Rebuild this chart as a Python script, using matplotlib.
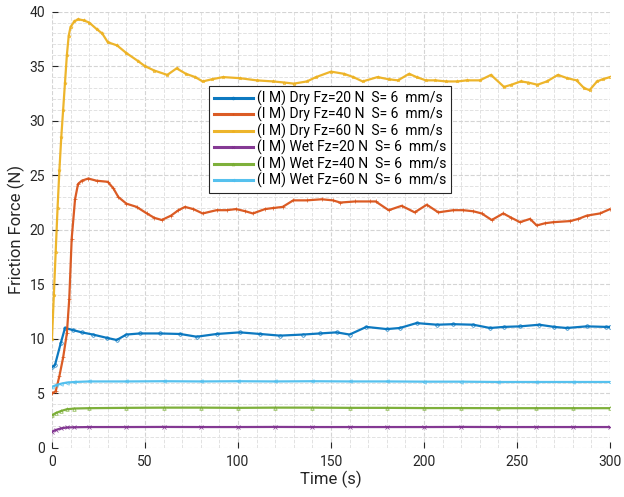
import matplotlib
matplotlib.use("Agg")
import matplotlib.pyplot as plt
from matplotlib.ticker import MultipleLocator

plt.rcParams["font.family"] = ["Roboto", "DejaVu Sans"]

# ---- data ----
t_dry60 = [0, 1, 2, 3, 4, 5, 6, 7, 8, 9, 10, 12, 14, 17, 20, 24, 27, 30, 35, 40,
           46, 50, 55, 62, 67, 72, 77, 81, 86, 92, 101, 110, 119, 125, 130, 137,
           142, 150, 157, 162, 167, 175, 181, 186, 192, 196, 201, 206, 212, 218,
           223, 230, 236, 243, 247, 252, 256, 261, 266, 272, 277, 282, 286, 289,
           293, 296, 300]
f_dry60 = [10, 14, 18, 22, 25.5, 28.5, 31, 33.5, 36, 37.8, 38.6, 39.1, 39.3, 39.2,
           39.0, 38.4, 38.0, 37.2, 36.9, 36.2, 35.5, 35.0, 34.6, 34.2, 34.8, 34.3,
           34.0, 33.6, 33.8, 34.0, 33.9, 33.7, 33.6, 33.5, 33.4, 33.6, 34.0, 34.5,
           34.3, 34.0, 33.6, 34.0, 33.8, 33.7, 34.3, 34.0, 33.7, 33.7, 33.6, 33.6,
           33.7, 33.7, 34.2, 33.1, 33.3, 33.6, 33.5, 33.3, 33.6, 34.2, 33.9, 33.7,
           33.0, 32.8, 33.6, 33.8, 34.0]

t_dry40 = [0, 2, 4, 6, 8, 9.3, 10.6, 12.4, 14, 16, 19.5, 24, 30, 33, 35.7, 40,
           45.5, 51, 55, 59, 64, 68, 71.5, 76, 81, 88.5, 94, 99, 104, 108, 114.5,
           119, 124, 129.7, 137, 145, 151, 155, 163, 171, 174, 181, 188, 195,
           201.5, 207.7, 215.8, 221, 226.5, 231, 236.4, 242.6, 247, 251.6, 257,
           260.6, 265, 269.5, 278.5, 283, 287.5, 294.6, 300]
f_dry40 = [5.0, 5.2, 6.6, 8.3, 10.5, 13.7, 19.2, 22.8, 24.2, 24.5, 24.7, 24.5,
           24.4, 23.8, 23.0, 22.4, 22.1, 21.5, 21.1, 20.9, 21.3, 21.8, 22.1, 21.9,
           21.5, 21.8, 21.8, 21.9, 21.7, 21.5, 21.9, 22.0, 22.1, 22.7, 22.7, 22.8,
           22.7, 22.5, 22.6, 22.6, 22.6, 21.8, 22.2, 21.6, 22.3, 21.6, 21.8, 21.8,
           21.7, 21.5, 20.9, 21.5, 21.1, 20.7, 21.0, 20.4, 20.6, 20.7, 20.8, 21.0,
           21.3, 21.5, 21.9]

t_dry20 = [0, 1.6, 4.7, 7, 11.5, 16, 22, 29.4, 34.8, 40, 47.3, 58, 69, 77.8, 88.5,
           101, 112, 122.6, 135, 144, 153, 160, 169, 180, 187, 196, 207, 215.7,
           226.5, 235.5, 243, 251.6, 262, 270, 276.7, 287.5, 298, 300]
f_dry20 = [7.4, 7.6, 9.6, 11.0, 10.8, 10.6, 10.4, 10.1, 9.9, 10.4, 10.5, 10.5,
           10.45, 10.2, 10.45, 10.6, 10.45, 10.3, 10.4, 10.5, 10.6, 10.4, 11.1,
           10.9, 11.0, 11.45, 11.3, 11.35, 11.3, 11.0, 11.1, 11.15, 11.3, 11.1,
           11.0, 11.15, 11.1, 11.1]

t_wet = [0, 2, 5, 8, 12, 20, 40, 60, 80, 100, 120, 140, 160, 180, 200, 220, 240,
         260, 280, 300]
f_wet60 = [5.6, 5.75, 5.9, 6.0, 6.05, 6.1, 6.1, 6.12, 6.1, 6.12, 6.1, 6.12, 6.1,
           6.1, 6.08, 6.08, 6.05, 6.05, 6.05, 6.05]
f_wet40 = [3.0, 3.2, 3.4, 3.55, 3.62, 3.65, 3.68, 3.7, 3.7, 3.68, 3.7, 3.7, 3.68,
           3.68, 3.66, 3.66, 3.65, 3.65, 3.65, 3.65]
f_wet20 = [1.5, 1.65, 1.8, 1.88, 1.9, 1.92, 1.92, 1.93, 1.92, 1.92, 1.93, 1.92,
           1.92, 1.92, 1.92, 1.93, 1.92, 1.92, 1.92, 1.92]

labels = [
    "(I M) Dry Fz=20 N  S= 6  mm/s",
    "(I M) Dry Fz=40 N  S= 6  mm/s",
    "(I M) Dry Fz=60 N  S= 6  mm/s",
    "(I M) Wet Fz=20 N  S= 6  mm/s",
    "(I M) Wet Fz=40 N  S= 6  mm/s",
    "(I M) Wet Fz=60 N  S= 6  mm/s",
]
colors = ["#0072bd", "#d95319", "#edb120", "#7e2f8e", "#77ac30", "#4dbeee"]
markers = ["o", "+", "*", "x", "^", "<"]

series = [(t_dry20, f_dry20), (t_dry40, f_dry40), (t_dry60, f_dry60),
          (t_wet, f_wet20), (t_wet, f_wet40), (t_wet, f_wet60)]

fig = plt.figure(figsize=(6.24, 4.97), dpi=100)
ax = fig.add_axes([0.0833, 0.0986, 0.8943, 0.878])

for (t, f), lab, c, m in zip(series, labels, colors, markers):
    ax.plot(t, f, color=c, lw=1.6, marker=m, ms=2.5, mew=0.5,
            mfc="none", alpha=0.95, label=lab)

ax.set_xlim(0, 300)
ax.set_ylim(0, 40)
ax.xaxis.set_major_locator(MultipleLocator(50))
ax.xaxis.set_minor_locator(MultipleLocator(10))
ax.yaxis.set_major_locator(MultipleLocator(5))
ax.yaxis.set_minor_locator(MultipleLocator(1))
ax.grid(which="major", color="#d4d4d4", ls="--", lw=0.8)
ax.grid(which="minor", color="#e2e2e2", ls="--", lw=0.7)
ax.set_axisbelow(True)
for s in ax.spines.values():
    s.set_visible(False)
ax.tick_params(which="major", direction="in", length=4, color="#262626",
               labelcolor="#262626", labelsize=10, pad=5)
ax.tick_params(which="minor", length=0)

ax.set_xlabel("Time (s)", fontsize=12, color="#262626", labelpad=1)
ax.set_ylabel("Friction Force (N)", fontsize=12, color="#262626", labelpad=3)

leg = ax.legend(loc="upper left", bbox_to_anchor=(0.281, 0.83), fontsize=10,
                frameon=True, fancybox=False, framealpha=1, edgecolor="#262626",
                labelspacing=0.08, handlelength=2.8, handletextpad=0.3,
                borderpad=0.35, borderaxespad=0, markerscale=0.8)
leg.get_frame().set_linewidth(0.8)
for h in leg.get_lines():
    h.set_linewidth(2.2)

fig.savefig("out.png", dpi=100)
